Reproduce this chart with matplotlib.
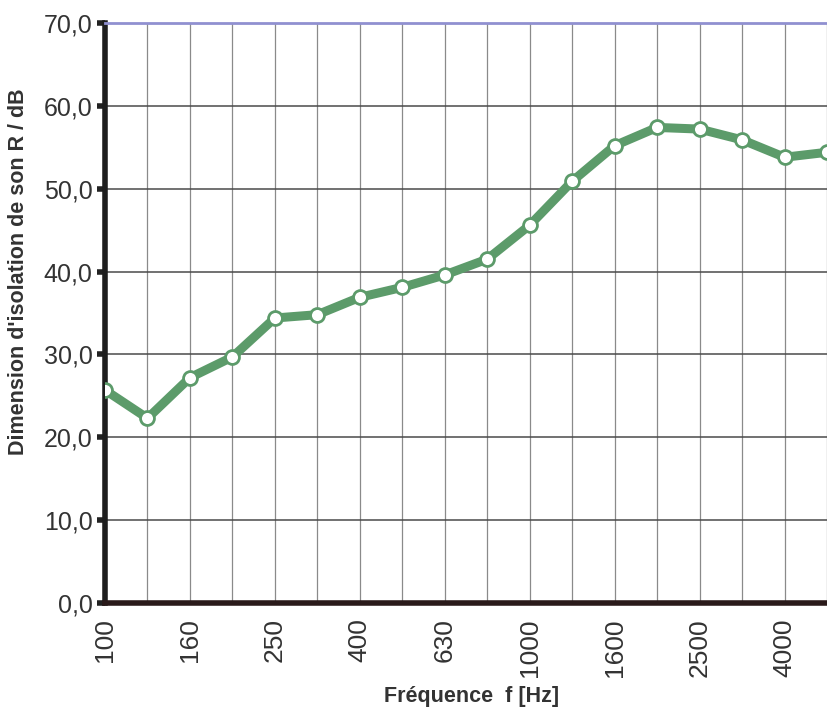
import numpy as np
import matplotlib.pyplot as plt

plt.rcParams['font.family'] = ['Liberation Sans', 'DejaVu Sans']

# third-octave bands (Hz) and measured sound reduction index R (dB)
freqs = ['100', '125', '160', '200', '250', '315', '400', '500', '630', '800',
         '1000', '1250', '1600', '2000', '2500', '3150', '4000', '5000']
r_db = [25.7, 22.3, 27.2, 29.7, 34.4, 34.8, 36.9, 38.1, 39.6, 41.5,
        45.6, 50.9, 55.2, 57.4, 57.2, 55.9, 53.8, 54.4]
y_ticks = [0, 10, 20, 30, 40, 50, 60, 70]

x = np.arange(len(freqs))

fig = plt.figure(figsize=(8.27, 7.15), dpi=100)
ax = fig.add_axes([0.1270, 0.1566, 0.8730, 0.8112])

ax.plot(x, r_db, color='#5c9b6a', linewidth=6.5, marker='o', markersize=10,
        markerfacecolor='white', markeredgecolor='#5c9b6a', markeredgewidth=2,
        solid_joinstyle='round', zorder=3)

ax.set_xlim(0, 16.72)
ax.set_ylim(0, 70)

ax.set_xticks(x)
ax.set_xticklabels([f if i % 2 == 0 else '' for i, f in enumerate(freqs)],
                   rotation=90, fontsize=19, color='#333333')
ax.set_yticks(y_ticks)
ax.set_yticklabels([f'{v:.1f}'.replace('.', ',') for v in y_ticks],
                   fontsize=18, color='#333333')

ax.tick_params(axis='x', length=0, pad=11)
ax.tick_params(axis='y', length=6, width=4, color='#222222', pad=3)

ax.grid(axis='x', color='#8a8a8a', linewidth=0.9)
ax.grid(axis='y', color='#4a4a4a', linewidth=1.1)
ax.set_axisbelow(True)

ax.spines['left'].set_linewidth(4)
ax.spines['left'].set_color('#1e1e1e')
ax.spines['bottom'].set_linewidth(4)
ax.spines['bottom'].set_color('#2a1a1a')
ax.spines['top'].set_color('#9090d0')
ax.spines['top'].set_linewidth(2)
ax.spines['right'].set_visible(False)

ax.set_xlabel('Fréquence  f [Hz]', fontsize=15.5, fontweight='bold',
              color='#333333')
ax.set_ylabel("Dimension d'isolation de son R / dB", fontsize=15.5,
              fontweight='bold', color='#333333')
ax.xaxis.set_label_coords(0.508, -0.143)
ax.yaxis.set_label_coords(-0.105, 0.572)

fig.savefig('out.png', dpi=100)
